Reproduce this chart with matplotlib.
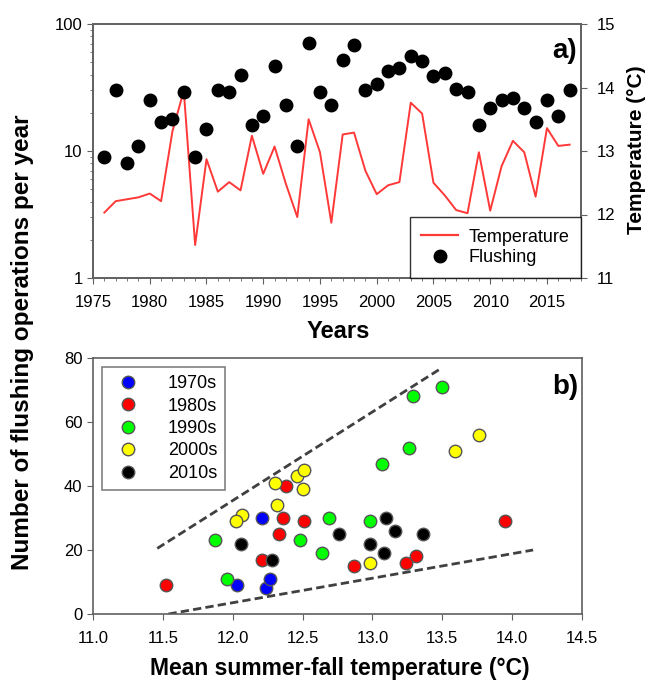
import matplotlib
matplotlib.use("Agg")
import matplotlib.pyplot as plt
from matplotlib.lines import Line2D
from matplotlib.ticker import MultipleLocator, NullFormatter
import numpy as np

plt.rcParams['font.family'] = ['Liberation Sans', 'DejaVu Sans']

# ---------------- data ----------------
years = list(range(1976, 2018))
temperature = [12.03, 12.21, 12.24, 12.27, 12.33, 12.21, 13.31, 13.95, 11.52, 12.87,
               12.36, 12.51, 12.38, 13.24, 12.64, 13.07, 12.48, 11.96, 13.50, 12.98,
               11.87, 13.26, 13.29, 12.69, 12.32, 12.46, 12.51, 13.76, 13.59, 12.50,
               12.30, 12.07, 12.02, 12.98, 12.06, 12.76, 13.16, 12.98, 12.28, 13.36,
               13.08, 13.10]
flushing = [9, 30, 8, 11, 25, 17, 18, 29, 9, 15,
            30, 29, 40, 16, 19, 47, 23, 11, 71, 29,
            23, 52, 68, 30, 34, 43, 45, 56, 51, 39,
            41, 31, 29, 16, 22, 25, 26, 22, 17, 25,
            19, 30]
decades = ['1970s', '1980s', '1990s', '2000s', '2010s']
decade_colors = ['#0000ff', '#ff0000', '#00ff00', '#ffff00', '#000000']
upper_env_x = [11.46, 13.50]
upper_env_y = [20.5, 77]
lower_env_x = [11.54, 14.15]
lower_env_y = [0, 20]

fig = plt.figure(figsize=(6.49, 6.82), dpi=100)
spine_c = '#606060'
line_c = '#ff3838'

# ---------------- panel a ----------------
ax1 = fig.add_axes([93/649, 1-278/682, 488/649, 254/682])
ax2 = ax1.twinx()
ax1.set_zorder(ax2.get_zorder() + 1)
ax1.patch.set_visible(False)

ax2.plot(years, temperature, color=line_c, lw=1.4, label='Temperature')
ax2.set_ylim(11, 15)
ax2.set_yticks([11, 12, 13, 14, 15])

ax1.plot(years, flushing, 'o', color='black', ms=9, label='Flushing')
ax1.set_yscale('log')
ax1.set_ylim(1, 100)
ax1.set_yticks([1, 10, 100])
ax1.set_yticklabels(['1', '10', '100'])
ax1.yaxis.set_minor_formatter(NullFormatter())
ax1.set_xlim(1975, 2018)
ax1.set_xticks(range(1975, 2016, 5))
ax1.xaxis.set_minor_locator(MultipleLocator(1))

for ax in (ax1, ax2):
    for s in ax.spines.values():
        s.set_color(spine_c)
        s.set_linewidth(1.2)
    ax.tick_params(which='both', direction='out', colors=spine_c, labelcolor='black',
                   labelsize=12)
    ax.tick_params(which='major', length=4)
    ax.tick_params(which='minor', length=2)
ax1.tick_params(axis='x', which='major', pad=8.5)
ax2.tick_params(axis='y', which='major', pad=7)

h = [Line2D([], [], color=line_c, lw=1.6),
     Line2D([], [], marker='o', color='black', ls='none', ms=9)]
leg1 = ax1.legend(h, ['Temperature', 'Flushing'], loc='lower right', borderaxespad=0,
                  fancybox=False, edgecolor='black', fontsize=13, handlelength=2.0,
                  handletextpad=0.6, labelspacing=0.2, borderpad=0.65)
leg1.get_frame().set_linewidth(1.0)

ax1.text(0.992, 0.894, 'a)', transform=ax1.transAxes, ha='right', va='center',
         fontsize=20, fontweight='bold')
fig.text(338/649, 1-332/682, 'Years', ha='center', va='center', fontsize=17,
         fontweight='bold')
fig.text(637/649, 1-150/682, 'Temperature (°C)', rotation=90, ha='center', va='center',
         fontsize=15, fontweight='bold')

# ---------------- panel b ----------------
ax3 = fig.add_axes([93/649, 1-614/682, 489/649, 256/682])
ax3.plot(upper_env_x, upper_env_y, ls=(0, (3, 1.5)), color='#404040', lw=2)
ax3.plot(lower_env_x, lower_env_y, ls=(0, (3, 1.5)), color='#404040', lw=2)
years_arr = np.array(years)
temp_arr = np.array(temperature)
flush_arr = np.array(flushing)
for i, (dec, col) in enumerate(zip(decades, decade_colors)):
    start = 1970 + 10 * i
    m = (years_arr >= start) & (years_arr < start + 10)
    ax3.plot(temp_arr[m], flush_arr[m], 'o', ms=9, mfc=col, mec='#555555', mew=1.0,
             ls='none', label=dec)
ax3.set_xlim(11.0, 14.5)
ax3.set_ylim(0, 80)
ax3.set_xticks(np.arange(11.0, 14.51, 0.5))
ax3.set_xticklabels([f'{v:.1f}' for v in np.arange(11.0, 14.51, 0.5)])
ax3.set_yticks([0, 20, 40, 60, 80])
for s in ax3.spines.values():
    s.set_color(spine_c)
    s.set_linewidth(1.2)
ax3.tick_params(direction='out', length=4, colors=spine_c, labelcolor='black', labelsize=12)
ax3.tick_params(axis='x', pad=8.5)
leg2 = ax3.legend(loc='upper left', fancybox=False, edgecolor=spine_c, fontsize=13,
                  borderaxespad=0.5, labelspacing=0.3, handletextpad=1.2, borderpad=0.45)
leg2.get_frame().set_linewidth(1.2)
ax3.text(0.992, 0.887, 'b)', transform=ax3.transAxes, ha='right', va='center',
         fontsize=20, fontweight='bold')

fig.text(340/649, 1-668/682, 'Mean summer-fall temperature (°C)', ha='center', va='center',
         fontsize=16.5, fontweight='bold')
fig.text(23/649, 1-342/682, 'Number of flushing operations per year', rotation=90,
         ha='center', va='center', fontsize=17.5, fontweight='bold')

fig.savefig('out.png', dpi=100)
